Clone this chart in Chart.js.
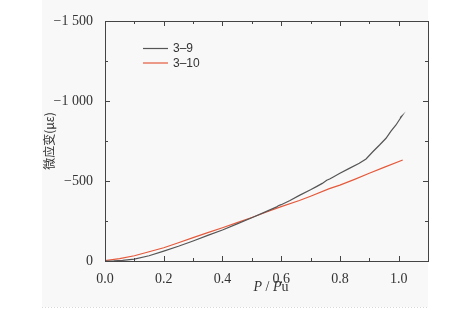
<!DOCTYPE html>
<html>
<head>
<meta charset="utf-8">
<script src="https://cdn.jsdelivr.net/npm/chart.js@4"></script>
<style>
  body { margin: 0; background: #fff; }
</style>
</head>
<body>
<canvas id="strainChart" width="474" height="310"></canvas>
<script>
// load ratio P/Pu and micro strain for the two specimens
const load39 = [0, 0.03, 0.06, 0.10, 0.15, 0.20, 0.25, 0.30, 0.35, 0.40, 0.45, 0.50, 0.55, 0.585, 0.59, 0.60, 0.63, 0.662, 0.70, 0.72, 0.74, 0.755, 0.765, 0.776, 0.80, 0.832, 0.866, 0.889, 0.912, 0.935, 0.957, 0.974, 0.991, 1.002, 1.012, 1.005];
const strain39 = [0, -1, -4, -12, -33, -62, -92, -125, -160, -194, -232, -270, -310, -338, -345, -352, -378, -410, -445, -465, -485, -505, -512, -524, -548, -579, -611, -638, -683, -725, -767, -812, -850, -881, -908, -896];

const load310 = [0, 0.05, 0.10, 0.15, 0.20, 0.25, 0.30, 0.35, 0.40, 0.45, 0.50, 0.55, 0.60, 0.662, 0.70, 0.764, 0.80, 0.85, 0.90, 0.95, 1.014];
const strain310 = [-3, -15, -33, -58, -83, -114, -146, -177, -208, -240, -272, -306, -340, -378, -405, -452, -474, -510, -548, -585, -631];

const seriesNames = ["3\u20139", "3\u201310"];
const loadTicks = [0, 0.2, 0.4, 0.6, 0.8, 1.0];
const loadMinor = [0.1, 0.3, 0.5, 0.7, 0.9];
const strainTicks = [-1500, -1000, -500, 0];
const strainMinor = [-1250, -750, -250];

const serif = "'Liberation Serif', 'Times New Roman', serif";

function toPoints(xs, ys) {
    return xs.map((x, i) => ({ x: x, y: ys[i] }));
}

function strainLabel(v) {
    if (v === 0) return "0";
    const a = Math.abs(v);
    const s = a >= 1000 ? Math.floor(a / 1000) + " " + String(a % 1000).padStart(3, "0") : String(a);
    return "\u2212" + s;
}

// page background, frame with inward ticks, legend and x title
const decorations = {
    id: "decorations",
    beforeDraw(chart) {
        const ctx = chart.ctx;
        ctx.save();
        ctx.fillStyle = "#ffffff";
        ctx.fillRect(0, 0, chart.width, chart.height);
        ctx.fillStyle = "#f8f8f8";
        ctx.fillRect(42, 0, 386, 307);
        ctx.strokeStyle = "#d8d8d8";
        ctx.setLineDash([1, 2]);
        ctx.beginPath();
        ctx.moveTo(42, 307.5);
        ctx.lineTo(428, 307.5);
        ctx.stroke();
        ctx.restore();
    },
    afterDatasetsDraw(chart) {
        const ctx = chart.ctx;
        const a = chart.chartArea;
        const xs = chart.scales.x;
        const ys = chart.scales.y;
        ctx.save();
        ctx.strokeStyle = "#444";
        ctx.lineWidth = 1;
        ctx.strokeRect(Math.round(a.left) + 0.5, Math.round(a.top) + 0.5,
            Math.round(a.right - a.left), Math.round(a.bottom - a.top));

        ctx.beginPath();
        const xTick = (v, len) => {
            const px = Math.round(xs.getPixelForValue(v)) + 0.5;
            ctx.moveTo(px, a.bottom); ctx.lineTo(px, a.bottom - len);
            ctx.moveTo(px, a.top); ctx.lineTo(px, a.top + len);
        };
        const yTick = (v, len) => {
            const py = Math.round(ys.getPixelForValue(v)) + 0.5;
            ctx.moveTo(a.left, py); ctx.lineTo(a.left + len, py);
            ctx.moveTo(a.right, py); ctx.lineTo(a.right - len, py);
        };
        loadTicks.slice(1).forEach(v => xTick(v, 5));
        loadMinor.forEach(v => xTick(v, 3));
        strainTicks.slice(1, -1).forEach(v => yTick(v, 5));
        strainMinor.forEach(v => yTick(v, 3));
        ctx.stroke();

        // legend
        ctx.font = "12px 'Liberation Sans', Arial, sans-serif";
        ctx.textBaseline = "middle";
        ctx.textAlign = "left";
        chart.data.datasets.forEach((ds, i) => {
            const y = 48.5 + i * 14.5;
            ctx.strokeStyle = ds.borderColor;
            ctx.lineWidth = 1.2;
            ctx.beginPath();
            ctx.moveTo(143, y);
            ctx.lineTo(168, y);
            ctx.stroke();
            ctx.fillStyle = "#333";
            ctx.fillText(ds.label, 173, y + 0.5);
        });

        // x title: P / Pu
        const parts = [
            { t: "P", f: "italic 14px " + serif },
            { t: " / ", f: "14px " + serif },
            { t: "P", f: "italic 14px " + serif },
            { t: "u", f: "14px " + serif }
        ];
        let total = 0;
        parts.forEach(p => { ctx.font = p.f; p.w = ctx.measureText(p.t).width; total += p.w; });
        let x = 271 - total / 2;
        ctx.fillStyle = "#333";
        parts.forEach(p => { ctx.font = p.f; ctx.fillText(p.t, x, 287); x += p.w; });
        ctx.restore();
    }
};

const strainCtx = document.getElementById("strainChart").getContext("2d");
const strainChart = new Chart(strainCtx, {
    type: "line",
    data: {
        datasets: [{
            label: seriesNames[0],
            data: toPoints(load39, strain39),
            borderColor: "#555555",
            borderWidth: 1.2,
            pointRadius: 0,
            tension: 0
        }, {
            label: seriesNames[1],
            data: toPoints(load310, strain310),
            borderColor: "#e5593b",
            borderWidth: 1.2,
            pointRadius: 0,
            tension: 0
        }]
    },
    options: {
        responsive: false,
        animation: false,
        layout: { padding: { left: 0, right: 46, top: 21, bottom: 0 } },
        plugins: {
            legend: { display: false },
            tooltip: { enabled: false }
        },
        scales: {
            x: {
                type: "linear",
                min: 0,
                max: 1.1,
                afterBuildTicks: scale => { scale.ticks = loadTicks.map(v => ({ value: v })); },
                afterFit: scale => { scale.height = 49; },
                grid: { display: false },
                border: { display: false },
                ticks: {
                    padding: 2,
                    color: "#333",
                    font: { family: serif, size: 14 },
                    callback: v => v.toFixed(1)
                }
            },
            y: {
                type: "linear",
                reverse: true,
                min: -1500,
                max: 0,
                afterBuildTicks: scale => { scale.ticks = strainTicks.map(v => ({ value: v })); },
                afterFit: scale => { scale.width = 105; },
                grid: { display: false },
                border: { display: false },
                title: {
                    display: true,
                    text: "微应变(με)",
                    color: "#333",
                    font: { family: "'Noto Sans CJK SC', sans-serif", size: 12 },
                    padding: { top: 42, bottom: 0 }
                },
                ticks: {
                    padding: 4,
                    color: "#333",
                    font: { family: serif, size: 14 },
                    callback: v => strainLabel(v)
                }
            }
        }
    },
    plugins: [decorations]
});
</script>
</body>
</html>
